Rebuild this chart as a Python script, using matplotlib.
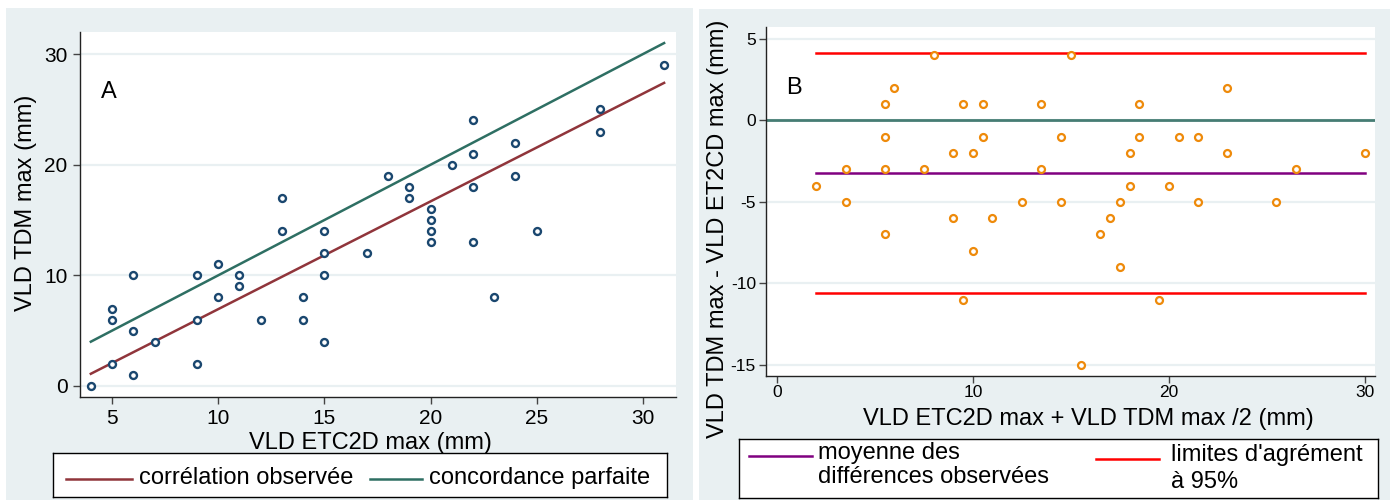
import numpy as np
import matplotlib
matplotlib.use("Agg")
import matplotlib.pyplot as plt
from matplotlib.patches import Rectangle

plt.rcParams['font.family'] = ['Liberation Sans', 'DejaVu Sans']
plt.rcParams['axes.unicode_minus'] = False

# VLD max (mm) : ETC2D (x) vs TDM (y), one pair per patient
etc2d = [4, 5, 5, 5, 6, 6, 6, 7, 9, 9, 9, 10, 10, 11, 11, 12, 13, 13, 14, 14,
         15, 15, 15, 15, 17, 18, 19, 19, 20, 20, 20, 20, 21, 22, 22, 22, 22,
         23, 24, 24, 25, 28, 28, 31]
tdm = [0, 2, 6, 7, 1, 5, 10, 4, 2, 6, 10, 8, 11, 9, 10, 6, 14, 17, 6, 8,
       4, 10, 12, 14, 12, 19, 17, 18, 13, 14, 15, 16, 20, 13, 18, 21, 24,
       8, 19, 22, 14, 23, 25, 29]

# fitted line ends, agreement limits
fit_x = [4, 31]
fit_y = [1.1, 27.4]
limits = [-10.6, 4.16]

xticks_a = [5, 10, 15, 20, 25, 30]
yticks_a = [0, 10, 20, 30]
xticks_b = [0, 10, 20, 30]
yticks_b = [-15, -10, -5, 0, 5]

bg = '#e9f0f2'
navy = '#1a476f'
maroon = '#90353b'
teal = '#2e6f63'
orange = '#ee8a0a'

W, H = 1397, 500
fig = plt.figure(figsize=(W / 100, H / 100), dpi=100)


def px_rect(x0, y0, x1, y1):
    return [x0 / W, 1 - y1 / H, (x1 - x0) / W, (y1 - y0) / H]


# panel backgrounds
for x0, y0, x1, y1 in [(6, 8, 693, 500), (699, 9, 1390, 500)]:
    r = px_rect(x0, y0, x1, y1)
    fig.add_artist(Rectangle((r[0], r[1]), r[2], r[3], transform=fig.transFigure,
                             facecolor=bg, edgecolor='none', zorder=-1))


def style_axes(ax, lsize):
    ax.set_facecolor('white')
    for s in ['top', 'right']:
        ax.spines[s].set_visible(False)
    for s in ['left', 'bottom']:
        ax.spines[s].set_linewidth(1.0)
        ax.spines[s].set_color('#222222')
    ax.tick_params(direction='out', length=5, width=1, color='#444444',
                   labelsize=lsize, pad=4)
    ax.yaxis.grid(True, color=bg, linewidth=1.6)
    ax.set_axisbelow(True)


# ---- A : correlation ----
x = np.array(etc2d)
y = np.array(tdm)
axa = fig.add_axes(px_rect(80, 32, 676, 397))
style_axes(axa, 15)
axa.set_xlim(3.49, 31.56)
axa.set_ylim(-1, 32)
axa.set_xticks(xticks_a)
axa.set_yticks(yticks_a)

xs = np.array([x.min(), x.max()])
axa.plot(fit_x, fit_y, color=maroon, lw=1.8, zorder=2)
axa.plot(xs, xs, color=teal, lw=1.8, zorder=2)
axa.plot(x, y, 'o', ms=5, mfc='white', mec=navy, mew=1.7, zorder=3, clip_on=False)

axa.set_xlabel('VLD ETC2D max (mm)', fontsize=17, va='baseline')
axa.xaxis.set_label_coords(0.487, -0.142)
axa.set_ylabel('VLD TDM max (mm)', fontsize=17, va='center', ha='center')
axa.yaxis.set_label_coords(-0.09, 0.533)
axa.text(0.035, 0.836, 'A', transform=axa.transAxes, fontsize=17, va='center')

# ---- B : Bland-Altman ----
mean_xy = (x + y) / 2
diff = y - x
md = diff.mean()
lo, hi = limits

axb = fig.add_axes(px_rect(765.6, 27.3, 1375, 375.7))
style_axes(axb, 12.5)
axb.tick_params(pad=2)
axb.set_xlim(-0.58, 30.53)
axb.set_ylim(-15.68, 5.72)
axb.set_xticks(xticks_b)
axb.set_yticks(yticks_b)

mx = [mean_xy.min(), mean_xy.max()]
axb.axhline(0, color='#467d74', lw=2, zorder=2)
axb.plot(mx, [hi, hi], color='#ff0000', lw=1.8, zorder=2)
axb.plot(mx, [lo, lo], color='#ff0000', lw=1.8, zorder=2)
axb.plot(mx, [md, md], color='#800080', lw=1.8, zorder=2)
axb.plot(mean_xy, diff, 'o', ms=5, mfc='white', mec=orange, mew=1.6, zorder=3)

axb.set_xlabel('VLD ETC2D max + VLD TDM max /2 (mm)', fontsize=17, va='baseline')
axb.xaxis.set_label_coords(0.53, -0.1415)
axb.set_ylabel('VLD TDM max - VLD ET2CD max (mm)', fontsize=17, va='center', ha='center')
axb.yaxis.set_label_coords(-0.078, 0.421)
axb.text(0.0335, 0.826, 'B', transform=axb.transAxes, fontsize=17, va='center')


# ---- legends (boxes drawn in pixel units) ----
def legend_box(x0, y0, x1, y1):
    lg = fig.add_axes(px_rect(x0, y0, x1, y1))
    lg.set_xlim(0, x1 - x0)
    lg.set_ylim(y1 - y0, 0)
    lg.set_xticks([])
    lg.set_yticks([])
    for s in lg.spines.values():
        s.set_linewidth(1.0)
        s.set_color('black')
    return lg


lga = legend_box(53, 453, 667, 497)
lga.plot([13, 79], [26, 26], color=maroon, lw=1.8)
lga.text(86, 25, 'corrélation observée', fontsize=17, va='center')
lga.plot([317, 369], [26, 26], color=teal, lw=1.8)
lga.text(376, 25, 'concordance parfaite', fontsize=17, va='center')

lgb = legend_box(739, 439, 1378, 498)
lgb.plot([10, 73], [17, 17], color='#800080', lw=1.8)
lgb.text(79, 14, 'moyenne des', fontsize=17, va='center')
lgb.text(79, 38, 'différences observées', fontsize=17, va='center')
lgb.plot([357, 420], [20, 20], color='#ff0000', lw=1.8)
lgb.text(432, 16, "limites d'agrément", fontsize=17, va='center')
lgb.text(432, 43, 'à 95%', fontsize=17, va='center')

fig.savefig('out.png', dpi=100)
